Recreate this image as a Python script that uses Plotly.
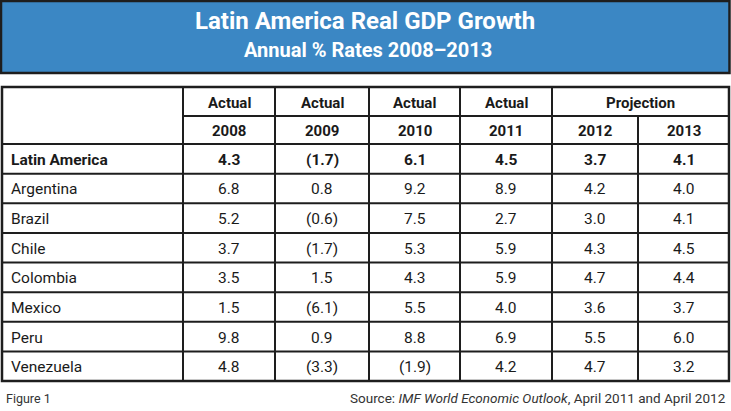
import plotly.graph_objects as go

# ---- data ----
title_text = "Latin America Real GDP Growth"
subtitle_text = "Annual % Rates 2008\u20132013"
years = ["2008", "2009", "2010", "2011", "2012", "2013"]
groups = ["Actual", "Actual", "Actual", "Actual", "Projection"]
group_spans = [1, 1, 1, 1, 2]
countries = ["Latin America", "Argentina", "Brazil", "Chile", "Colombia",
             "Mexico", "Peru", "Venezuela"]
v2008 = [4.3, 6.8, 5.2, 3.7, 3.5, 1.5, 9.8, 4.8]
v2009 = [-1.7, 0.8, -0.6, -1.7, 1.5, -6.1, 0.9, -3.3]
v2010 = [6.1, 9.2, 7.5, 5.3, 4.3, 5.5, 8.8, -1.9]
v2011 = [4.5, 8.9, 2.7, 5.9, 5.9, 4.0, 6.9, 4.2]
v2012 = [3.7, 4.2, 3.0, 4.3, 4.7, 3.6, 5.5, 4.7]
v2013 = [4.1, 4.0, 4.1, 4.5, 4.4, 3.7, 6.0, 3.2]
footnote_left = "Figure 1"
footnote_right = "Source: <i>IMF World Economic Outlook</i>, April 2011 and April 2012"

# ---- layout geometry ----
W, H = 731, 411
FONT = "Roboto, Open Sans, sans-serif"
col_x = [2, 183, 275, 369, 460, 552, 638, 729]
head_y = [87, 116, 144]
row_h = (381 - 144) / len(countries)
row_y = [144 + i * row_h for i in range(len(countries) + 1)]
line_col = "#1e1e1e"
blue = "#3b87c4"
txt_col = "#1a1a1a"

def fmt(v):
    return f"({abs(v):.1f})" if v < 0 else f"{v:.1f}"

shapes = []
annotations = []

# title box
shapes.append(dict(type="rect", x0=1, x1=729.5, y0=1, y1=73, xref="x", yref="y",
                   fillcolor=blue, line=dict(color=line_col, width=2.5), layer="below"))
annotations.append(dict(x=365, y=21, text=f"<b>{title_text}</b>", showarrow=False,
                        font=dict(family=FONT, size=24, color="white"),
                        xanchor="center", yanchor="middle"))
annotations.append(dict(x=368, y=50, text=f"<b>{subtitle_text}</b>", showarrow=False,
                        font=dict(family=FONT, size=20, color="white"),
                        xanchor="center", yanchor="middle"))

def hline(y, x0, x1, w=2):
    shapes.append(dict(type="line", x0=x0, x1=x1, y0=y, y1=y, xref="x", yref="y",
                       line=dict(color=line_col, width=w)))

def vline(x, y0, y1, w=2):
    shapes.append(dict(type="line", x0=x, x1=x, y0=y0, y1=y1, xref="x", yref="y",
                       line=dict(color=line_col, width=w)))

# outer border
shapes.append(dict(type="rect", x0=col_x[0], x1=col_x[-1], y0=head_y[0], y1=row_y[-1],
                   xref="x", yref="y", line=dict(color=line_col, width=2.5)))
# header horizontal line (not across first column)
hline(head_y[1], col_x[1], col_x[-1])
# body horizontal lines
for y in row_y[:-1]:
    hline(y, col_x[0], col_x[-1])
# vertical lines
for i, x in enumerate(col_x[1:-1], start=1):
    if i == 6:
        vline(x, head_y[1], row_y[-1])
    else:
        vline(x, head_y[0], row_y[-1])

# header texts
ci = 1
for g, span in zip(groups, group_spans):
    xc = (col_x[ci] + col_x[ci + span]) / 2
    annotations.append(dict(x=xc, y=(head_y[0] + head_y[1]) / 2 + 1, text=f"<b>{g}</b>",
                            showarrow=False, font=dict(family=FONT, size=15, color=txt_col),
                            xanchor="center", yanchor="middle"))
    ci += span
for j, yr in enumerate(years):
    xc = (col_x[j + 1] + col_x[j + 2]) / 2
    annotations.append(dict(x=xc, y=(head_y[1] + head_y[2]) / 2 + 1, text=f"<b>{yr}</b>",
                            showarrow=False, font=dict(family=FONT, size=15, color=txt_col),
                            xanchor="center", yanchor="middle"))

# body
series = [v2008, v2009, v2010, v2011, v2012, v2013]
for r, name in enumerate(countries):
    yc = (row_y[r] + row_y[r + 1]) / 2 + 1
    bold = r == 0
    t = f"<b>{name}</b>" if bold else name
    annotations.append(dict(x=9, y=yc, text=t, showarrow=False,
                            font=dict(family=FONT, size=15.5, color=txt_col),
                            xanchor="left", yanchor="middle"))
    for j, s in enumerate(series):
        xc = (col_x[j + 1] + col_x[j + 2]) / 2
        txt = fmt(s[r])
        annotations.append(dict(x=xc, y=yc, text=f"<b>{txt}</b>" if bold else txt,
                                showarrow=False,
                                font=dict(family=FONT, size=15.5, color=txt_col),
                                xanchor="center", yanchor="middle"))

# footnotes
annotations.append(dict(x=4, y=398, text=footnote_left, showarrow=False,
                        font=dict(family=FONT, size=12.5, color="#333333"),
                        xanchor="left", yanchor="middle"))
annotations.append(dict(x=728, y=398, text=footnote_right, showarrow=False,
                        font=dict(family=FONT, size=13.5, color="#333333"),
                        xanchor="right", yanchor="middle"))

fig = go.Figure()
fig.update_layout(
    width=W, height=H,
    margin=dict(l=0, r=0, t=0, b=0),
    paper_bgcolor="white", plot_bgcolor="white",
    xaxis=dict(range=[0, W], visible=False, fixedrange=True),
    yaxis=dict(range=[H, 0], visible=False, fixedrange=True),
    shapes=shapes, annotations=annotations, showlegend=False,
)
fig.write_html("out.html", config={"displayModeBar": False},
               post_script="document.body.style.margin='0px';document.body.style.overflow='hidden';")
